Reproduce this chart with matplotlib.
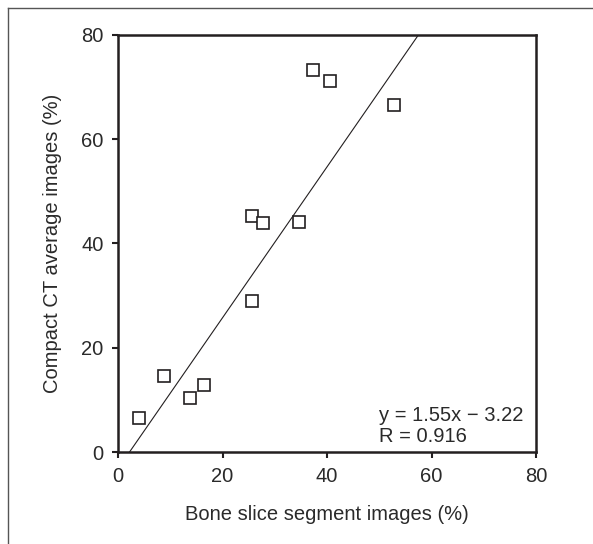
import matplotlib
matplotlib.use('Agg')
import matplotlib.pyplot as plt
from matplotlib.lines import Line2D

# data
bone_slice = [4.1, 8.8, 13.8, 16.4, 25.7, 25.7, 27.8, 34.7, 37.4, 40.6, 52.8]
compact_ct = [6.5, 14.5, 10.4, 12.9, 28.9, 45.2, 43.9, 44.1, 73.3, 71.1, 66.5]

# regression line as drawn (end points)
fit_x = [2.2, 57.5]
fit_y = [0.0, 80.0]

ticks = [0, 20, 40, 60, 80]
eq_text = 'y = 1.55x \u2212 3.22'
r_text = 'R = 0.916'

ink = '#231f20'
txt = '#2a2a2a'
plt.rcParams['font.family'] = ['Liberation Sans', 'DejaVu Sans']
plt.rcParams['font.size'] = 14.5

fig = plt.figure(figsize=(5.93, 5.44), dpi=100)
ax = fig.add_axes([0.199, 0.169, 0.705, 0.767])

ax.plot(fit_x, fit_y, color=ink, lw=0.8)
ax.plot(bone_slice, compact_ct, 's', ms=8, mfc='white', mec=ink, mew=1.2,
        linestyle='none')

ax.set_xlim(0, 80)
ax.set_ylim(0, 80)
ax.set_xticks(ticks)
ax.set_yticks(ticks)
ax.tick_params(direction='out', length=4.5, width=1.5, colors=ink,
               labelcolor=txt, pad=6)

for s in ax.spines.values():
    s.set_linewidth(1.8)
    s.set_color(ink)

ax.set_xlabel('Bone slice segment images (%)', color=txt, labelpad=14)
ax.set_ylabel('Compact CT average images (%)', color=txt, labelpad=14)

ax.text(50.0, 7.1, eq_text, va='center', ha='left', color=txt)
ax.text(50.0, 2.9, r_text, va='center', ha='left', color=txt)

# frame around the figure (top and left edge only, as in the source)
x0 = 8 / 593.0
y0 = 1 - 7.5 / 544.0
fig.add_artist(Line2D([x0, 1.0], [y0, y0], color='#555555', lw=1.0))
fig.add_artist(Line2D([x0, x0], [0.0, y0], color='#555555', lw=1.0))

fig.savefig('out.png', dpi=100)
